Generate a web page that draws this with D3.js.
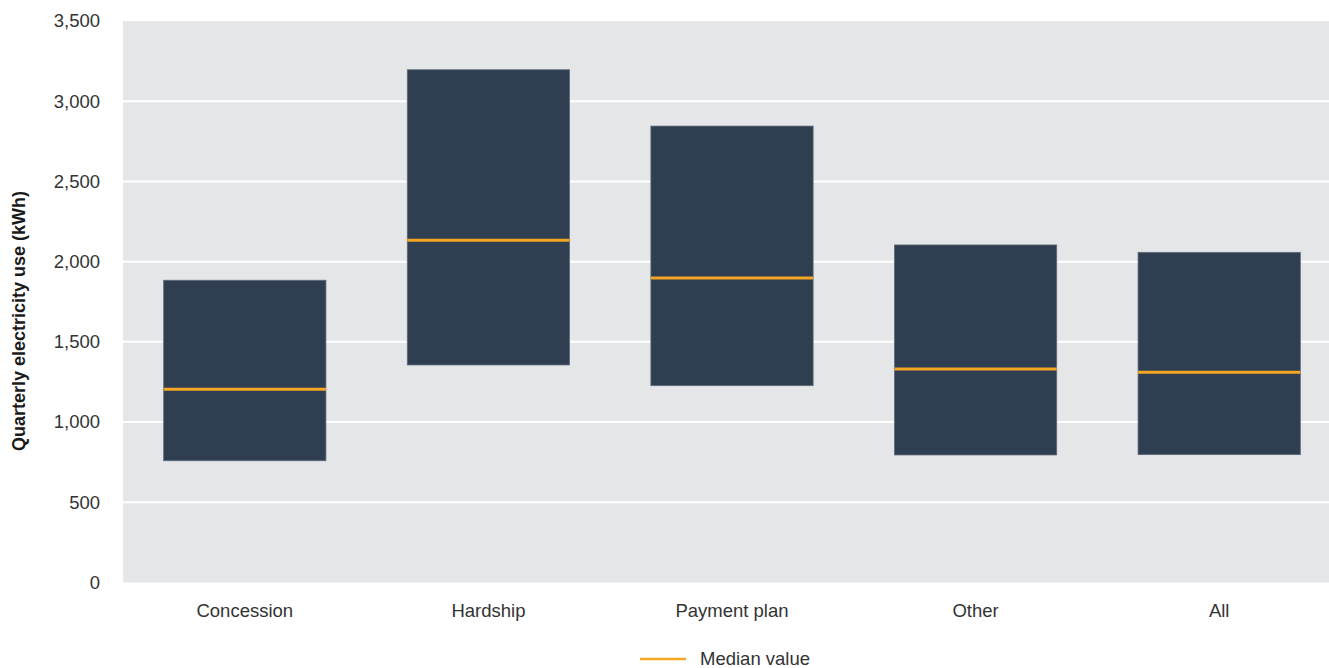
<!DOCTYPE html>
<html>
<head>
<meta charset="utf-8">
<script src="https://cdn.jsdelivr.net/npm/d3@7"></script>
<style>
  html, body { margin: 0; padding: 0; background: #fff; }
  svg { display: block; }
  text { font-family: "Liberation Sans", Arial, Helvetica, sans-serif; }
</style>
</head>
<body>
<svg id="chart" width="1329" height="668"></svg>
<script>
// Quarterly electricity use by customer group (kWh)
const categories = ["Concession", "Hardship", "Payment plan", "Other", "All"];
const lowerQuartile = [759, 1356, 1227, 795, 797];
const medianValue   = [1204, 2133, 1898, 1331, 1310];
const upperQuartile = [1884, 3196, 2845, 2104, 2058];
const yTicks = [0, 500, 1000, 1500, 2000, 2500, 3000, 3500];

const data = categories.map((c, i) => ({
  cat: c, lo: lowerQuartile[i], med: medianValue[i], hi: upperQuartile[i]
}));

const svg = d3.select("#chart");
const W = 1329, H = 668;
const plot = { left: 123, top: 21, bottom: 582.5, right: 1341 };

const x = d3.scaleBand().domain(categories)
  .range([plot.left, plot.right]).paddingInner(0.334).paddingOuter(0.167);
const y = d3.scaleLinear().domain([0, 3500]).range([plot.bottom, plot.top]);

// panel background
svg.append("rect")
  .attr("x", plot.left).attr("y", plot.top)
  .attr("width", W - plot.left).attr("height", plot.bottom - plot.top)
  .attr("fill", "#e5e6e8");

// horizontal gridlines
svg.append("g").selectAll("line").data(yTicks.filter(t => t > 0 && t < 3500)).join("line")
  .attr("x1", plot.left).attr("x2", W)
  .attr("y1", d => y(d)).attr("y2", d => y(d))
  .attr("stroke", "#fff").attr("stroke-width", 2);

// y axis tick labels
const yAxis = d3.axisLeft(y).tickValues(yTicks).tickSize(0).tickPadding(0)
  .tickFormat(d3.format(","));
const gy = svg.append("g").attr("transform", `translate(100,0)`).call(yAxis);
gy.select(".domain").remove();
gy.selectAll("text").attr("font-size", 18.5).attr("fill", "#333")
  .attr("font-family", "'Liberation Sans', Arial, sans-serif");

// x axis category labels
const xAxis = d3.axisBottom(x).tickSize(0).tickPadding(0);
const gx = svg.append("g").attr("transform", `translate(0,${plot.bottom + 21})`).call(xAxis);
gx.select(".domain").remove();
gx.selectAll("text").attr("font-size", 18.5).attr("fill", "#333")
  .attr("font-family", "'Liberation Sans', Arial, sans-serif");

// interquartile boxes
svg.append("g").selectAll("rect").data(data).join("rect")
  .attr("x", d => x(d.cat)).attr("width", x.bandwidth())
  .attr("y", d => y(d.hi)).attr("height", d => y(d.lo) - y(d.hi))
  .attr("fill", "#2f3e50").attr("stroke", "#5c6b7a").attr("stroke-width", 0.8);

// median lines
svg.append("g").selectAll("line").data(data).join("line")
  .attr("x1", d => x(d.cat)).attr("x2", d => x(d.cat) + x.bandwidth())
  .attr("y1", d => y(d.med)).attr("y2", d => y(d.med))
  .attr("stroke", "#f5a623").attr("stroke-width", 3);

// y axis title
svg.append("text")
  .attr("transform", `translate(25,321) rotate(-90)`)
  .attr("text-anchor", "middle").attr("font-size", 18).attr("font-weight", "bold")
  .attr("fill", "#1a1a1a").text("Quarterly electricity use (kWh)");

// legend
const lg = svg.append("g").attr("transform", "translate(640,659)");
lg.append("line").attr("x1", 0).attr("x2", 46).attr("y1", 0).attr("y2", 0)
  .attr("stroke", "#f5a623").attr("stroke-width", 2.5);
lg.append("text").attr("x", 60).attr("y", 5.5).attr("font-size", 18.5).attr("fill", "#333")
  .text("Median value");
</script>
</body>
</html>
